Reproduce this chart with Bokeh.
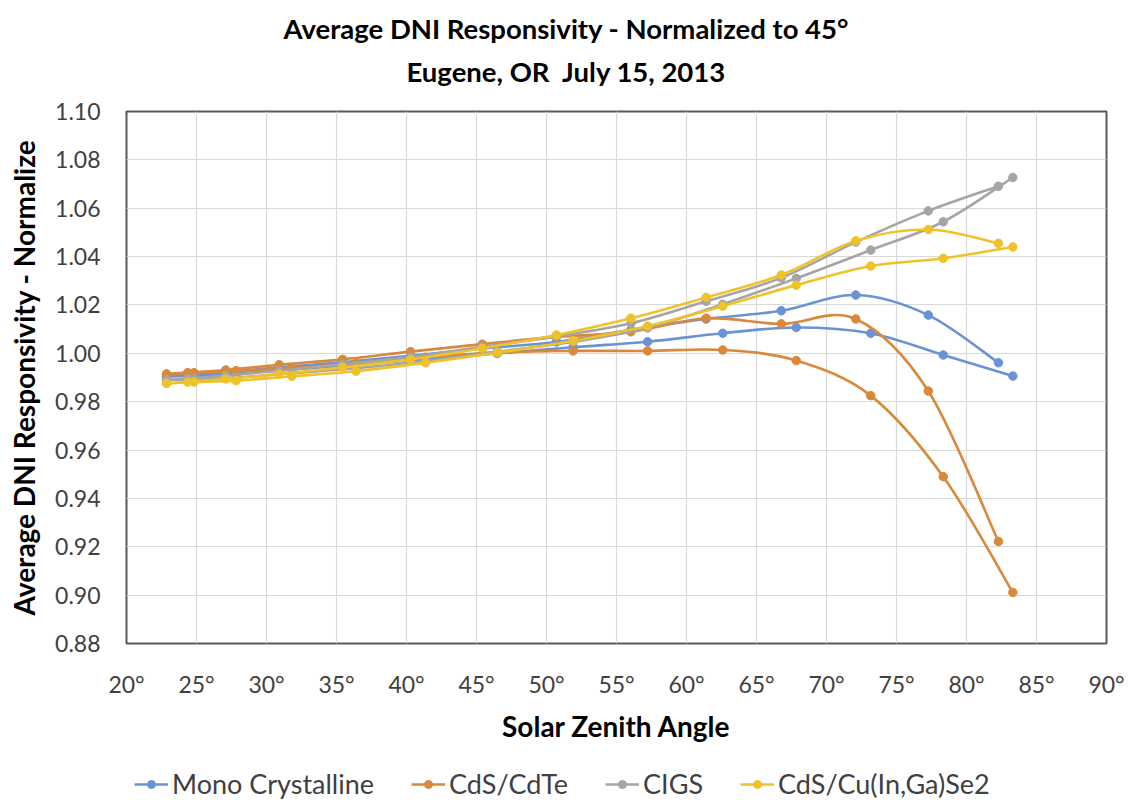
import numpy as np
from bokeh.plotting import figure
from bokeh.layouts import column
from bokeh.models import (Range1d, FixedTicker, PrintfTickFormatter, NumeralTickFormatter,
                          Legend, LegendItem, Title)
from bokeh.embed import file_html
from bokeh.resources import INLINE

# ---------------- data ----------------
zenith_a = [22.86, 24.37, 27.09, 30.91, 35.44, 40.29, 45.41, 50.71, 56.03, 61.40, 66.77, 72.09, 77.27, 82.28]
zenith_b = [22.86, 24.82, 27.83, 31.81, 36.39, 41.36, 46.48, 51.90, 57.22, 62.59, 67.84, 73.16, 78.34, 83.31]

mono_a = [0.9905, 0.9910, 0.9922, 0.9942, 0.9963, 0.9990, 1.0020, 1.0047, 1.0097, 1.0142, 1.0176, 1.0241, 1.0158, 0.9961]
mono_b = [0.9905, 0.9906, 0.9916, 0.9933, 0.9952, 0.9976, 0.9999, 1.0025, 1.0048, 1.0083, 1.0107, 1.0083, 0.9993, 0.9906]

cdte_a = [0.9914, 0.9920, 0.9931, 0.9953, 0.9975, 1.0007, 1.0038, 1.0068, 1.0089, 1.0145, 1.0122, 1.0142, 0.9844, 0.9222]
cdte_b = [0.9914, 0.9920, 0.9928, 0.9939, 0.9960, 0.9984, 1.0004, 1.0010, 1.0010, 1.0014, 0.9970, 0.9825, 0.9490, 0.9011]

cigs_a = [0.9890, 0.9895, 0.9908, 0.9928, 0.9955, 0.9985, 1.0027, 1.0070, 1.0124, 1.0215, 1.0312, 1.0460, 1.0589, 1.0691]
cigs_b = [0.9890, 0.9893, 0.9900, 0.9918, 0.9938, 0.9968, 1.0007, 1.0048, 1.0105, 1.0203, 1.0310, 1.0427, 1.0544, 1.0727]

cuinse_a = [0.9876, 0.9881, 0.9894, 0.9914, 0.9942, 0.9975, 1.0021, 1.0076, 1.0145, 1.0231, 1.0324, 1.0465, 1.0512, 1.0455]
cuinse_b = [0.9876, 0.9881, 0.9887, 0.9905, 0.9926, 0.9961, 1.0002, 1.0052, 1.0113, 1.0195, 1.0282, 1.0361, 1.0393, 1.0440]

series_names = ["Mono Crystalline", "CdS/CdTe", "CIGS", "CdS/Cu(In,Ga)Se2"]
series_a = [mono_a, cdte_a, cigs_a, cuinse_a]
series_b = [mono_b, cdte_b, cigs_b, cuinse_b]
series_colors = ["#6A93D6", "#D9893B", "#A5A5A5", "#F0C22A"]

x_ticks = [20, 25, 30, 35, 40, 45, 50, 55, 60, 65, 70, 75, 80, 85, 90]
y_ticks = [0.88, 0.90, 0.92, 0.94, 0.96, 0.98, 1.00, 1.02, 1.04, 1.06, 1.08, 1.10]

title_lines = ["Average DNI Responsivity - Normalized to 45\u00b0", "Eugene, OR\u00a0 July 15, 2013"]
x_title = "Solar Zenith Angle"
y_title = "Average DNI Responsivity - Normalize"

# ---------------- layout ----------------
W = 1128
H_MAIN, H_LEG = 759, 44
FL, FR, FT, FB = 126, 22, 111, 116        # borders around plot frame
FONT = "Lato"
LINE_W, MARK_SIZE = 2.6, 8.5

p = figure(width=W, height=H_MAIN, output_backend="svg", toolbar_location=None,
           x_range=Range1d(x_ticks[0], x_ticks[-1]), y_range=Range1d(y_ticks[0], y_ticks[-1]),
           min_border_left=FL, min_border_right=FR, min_border_top=FT, min_border_bottom=FB)
p.background_fill_color = "white"
p.border_fill_color = "white"
p.outline_line_color = "#595959"
p.outline_line_width = 2

p.xaxis.ticker = FixedTicker(ticks=x_ticks)
p.yaxis.ticker = FixedTicker(ticks=y_ticks)
p.xaxis.formatter = PrintfTickFormatter(format="%d\u00b0")
p.yaxis.formatter = NumeralTickFormatter(format="0.00")
for ax in (p.xaxis, p.yaxis):
    ax.axis_line_color = None
    ax.major_tick_line_color = None
    ax.minor_tick_line_color = None
    ax.major_tick_out = 0
    ax.major_tick_in = 0
    ax.major_label_text_font = FONT
    ax.major_label_text_font_size = "23px"
    ax.major_label_text_color = "#404040"
    ax.axis_label_text_font = FONT
    ax.axis_label_text_font_size = "28px"
    ax.axis_label_text_font_style = "bold"
    ax.axis_label_text_color = "#000000"
p.xaxis.axis_label = x_title
p.yaxis.axis_label = y_title
p.xaxis.major_label_standoff = 26
p.xaxis.axis_label_standoff = 8
p.yaxis.major_label_standoff = 26
p.yaxis.axis_label_standoff = 11

p.xgrid.grid_line_color = "#D9D9D9"
p.ygrid.grid_line_color = "#D9D9D9"
p.xgrid.grid_line_width = 1.2
p.ygrid.grid_line_width = 1.2


def bezier_segments(xs, ys):
    x = np.asarray(xs, dtype=float)
    y = np.asarray(ys, dtype=float)
    n = len(x)
    xp = np.concatenate([[x[0]], x, [x[-1]]])
    yp = np.concatenate([[y[0]], y, [y[-1]]])
    return dict(
        x0=x[:-1], y0=y[:-1], x1=x[1:], y1=y[1:],
        cx0=x[:-1] + (xp[2:n + 1] - xp[0:n - 1]) / 6.0,
        cy0=y[:-1] + (yp[2:n + 1] - yp[0:n - 1]) / 6.0,
        cx1=x[1:] - (xp[3:n + 2] - xp[1:n]) / 6.0,
        cy1=y[1:] - (yp[3:n + 2] - yp[1:n]) / 6.0,
    )


for name, ya, yb, col in zip(series_names, series_a, series_b, series_colors):
    for xs, ys in ((zenith_a, ya), (zenith_b, yb)):
        p.bezier(line_color=col, line_width=LINE_W, **bezier_segments(xs, ys))
        p.scatter(xs, ys, marker="circle", size=MARK_SIZE, fill_color=col, line_color=col)

# titles: spacer + two lines, stacked upward from the frame; left-aligned with
# offsets so that they are centred on the whole chart area as in the reference
p.add_layout(Title(text=" ", text_font_size="10px", standoff=6), "above")
p.add_layout(Title(text=title_lines[1], align="left", offset=280, standoff=10,
                   text_font=FONT, text_font_size="27.5px", text_font_style="bold",
                   text_color="#000000"), "above")
p.add_layout(Title(text=title_lines[0], align="left", offset=157, standoff=6,
                   text_font=FONT, text_font_size="27.5px", text_font_style="bold",
                   text_color="#000000"), "above")

# ---------------- legend strip (bottom of the chart) ----------------
# legend renderers carry the series data but stay hidden; only their legend swatches show
pl = figure(width=W, height=H_LEG, output_backend="svg", toolbar_location=None,
            x_range=Range1d(x_ticks[0], x_ticks[-1]), y_range=Range1d(y_ticks[0], y_ticks[-1]),
            x_axis_location=None, y_axis_location=None, min_border=0)
pl.outline_line_color = None
pl.grid.visible = False
pl.background_fill_color = "white"
pl.border_fill_color = "white"
items = []
for name, ya, col in zip(series_names, series_a, series_colors):
    rb = pl.bezier(line_color=col, line_width=LINE_W, visible=False, **bezier_segments(zenith_a, ya))
    rs = pl.scatter(zenith_a, ya, marker="circle", size=MARK_SIZE, fill_color=col, line_color=col,
                    visible=False)
    items.append(LegendItem(label=name, renderers=[rb, rs]))
legend = Legend(items=items, orientation="horizontal", location=(8, 3),
                label_text_font=FONT, label_text_font_size="27px", label_text_color="#404040",
                glyph_width=34, glyph_height=20, label_standoff=4, spacing=37,
                padding=0, margin=0, border_line_color=None, background_fill_alpha=0,
                inactive_fill_alpha=0, click_policy="none")
pl.add_layout(legend)

layout = column(p, pl, spacing=0)
open("out.html", "w").write(file_html(layout, INLINE))
